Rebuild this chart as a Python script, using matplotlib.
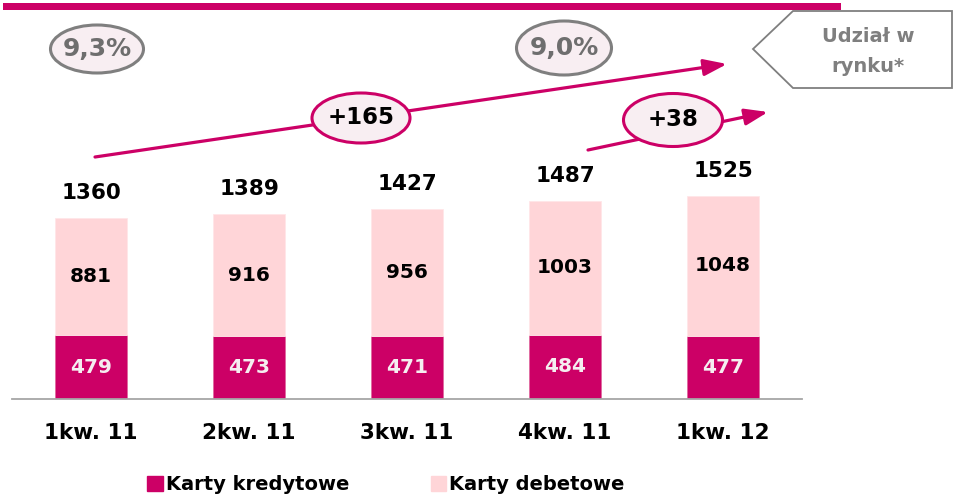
# Wykres: liczba kart (tys.) - kredytowe i debetowe, kwartalnie
import numpy as np
import matplotlib.pyplot as plt
from matplotlib.patches import Ellipse, Polygon, Rectangle, FancyArrowPatch

# Dane
kwartaly = ['1kw. 11', '2kw. 11', '3kw. 11', '4kw. 11', '1kw. 12']
kredytowe = [479, 473, 471, 484, 477]
debetowe = [881, 916, 956, 1003, 1048]
udzial = ['9,3%', '9,0%']
przyrosty = ['+165', '+38']

MAGENTA = '#CC0066'
ROZ = '#FFD5D8'
SZARY = '#7F7F7F'
TLO_ELIPSY = '#F8EEF2'

plt.rcParams['font.family'] = ['DejaVu Sans']
plt.rcParams['font.weight'] = 'bold'

W, H = 954, 497
fig = plt.figure(figsize=(W / 100, H / 100), dpi=100)

# pomocnicza: piksele (od gory-lewej) -> ulamek figury
def fp(px, py):
    return (px / W, 1 - py / H)

ax = fig.add_axes([12 / W, 1 - 399 / H, 790 / W, 399 / H])
x = np.arange(len(kwartaly))
suma = np.array(kredytowe) + np.array(debetowe)
ax.bar(x, kredytowe, 0.46, color=MAGENTA, edgecolor='#E06AA0', linewidth=0.6)
ax.bar(x, debetowe, 0.46, bottom=kredytowe, color=ROZ, edgecolor='#FFE6E8', linewidth=0.6)
ax.set_xlim(-0.5, 4.5)
ax.set_ylim(0, 3000)

for i in range(len(x)):
    ax.text(x[i], kredytowe[i] / 2, str(kredytowe[i]), ha='center', va='center',
            color='#F5EEF0', fontsize=14.5, fontweight='bold')
    ax.text(x[i], kredytowe[i] + debetowe[i] / 2, str(debetowe[i]), ha='center', va='center',
            color='black', fontsize=14.5, fontweight='bold')
    ax.annotate(str(suma[i]), (x[i], suma[i]), xytext=(0, 14), textcoords='offset points',
                ha='center', va='baseline', fontsize=15.5, fontweight='bold', color='black')

ax.set_xticks(x)
ax.set_xticklabels(kwartaly, fontsize=15.5, fontweight='bold')
ax.tick_params(axis='x', length=0, pad=17)
ax.set_yticks([])
for s in ['top', 'left', 'right']:
    ax.spines[s].set_visible(False)
ax.spines['bottom'].set_color('#A6A6A6')
ax.spines['bottom'].set_linewidth(1.3)

# gorny pasek
fig.add_artist(Rectangle(fp(3, 10), 838 / W, 7 / H, transform=fig.transFigure,
                         color=MAGENTA, lw=0))

# strzalki
for (p0, p1) in [((95, 157), (727, 64)), ((588, 150), (768, 112))]:
    fig.add_artist(FancyArrowPatch(fp(*p0), fp(*p1), transform=fig.transFigure,
                                   arrowstyle='-|>,head_length=1.4,head_width=0.5',
                                   color=MAGENTA, lw=2.3, shrinkA=0, shrinkB=0,
                                   mutation_scale=10, zorder=2))

# elipsy z udzialem w rynku
for txt, (cx, cy, w, h) in zip(udzial, [(97, 49, 93, 48), (564, 48, 95, 54)]):
    fig.add_artist(Ellipse(fp(cx, cy), w / W, h / H, transform=fig.transFigure,
                           facecolor=TLO_ELIPSY, edgecolor=SZARY, lw=2.2, zorder=3))
    fig.text(*fp(cx, cy), txt, ha='center', va='center', color='#6E6E6E',
             fontsize=18, fontweight='bold', zorder=4)

# elipsy z przyrostem
for txt, (cx, cy, w, h) in zip(przyrosty, [(361, 118, 98, 50), (673, 120, 99, 53)]):
    fig.add_artist(Ellipse(fp(cx, cy), w / W, h / H, transform=fig.transFigure,
                           facecolor=TLO_ELIPSY, edgecolor=MAGENTA, lw=2.2, zorder=3))
    fig.text(*fp(cx, cy), txt, ha='center', va='center', color='black',
             fontsize=16.5, fontweight='bold', zorder=4)

# ramka "Udzial w rynku*"
pts = [fp(753, 49), fp(793, 11), fp(952, 11), fp(952, 88), fp(793, 88)]
fig.add_artist(Polygon(pts, closed=True, transform=fig.transFigure,
                       facecolor='white', edgecolor=SZARY, lw=1.3, zorder=3))
fig.text(*fp(868, 37), 'Udział w', ha='center', va='center', color=SZARY,
         fontsize=14, fontweight='bold', zorder=4)
fig.text(*fp(868, 67), 'rynku*', ha='center', va='center', color=SZARY,
         fontsize=14, fontweight='bold', zorder=4)

# legenda
uchwyty = [Rectangle((0, 0), 1, 1, color=MAGENTA), Rectangle((0, 0), 1, 1, color=ROZ)]
fig.legend(uchwyty, ['Karty kredytowe', 'Karty debetowe'], loc='center',
           bbox_to_anchor=fp(386, 485), ncol=2, frameon=False,
           prop={'size': 14, 'weight': 'bold'}, handlelength=0.8, handleheight=0.8,
           handletextpad=0.15, columnspacing=4.2)

fig.savefig('out.png', dpi=100)
